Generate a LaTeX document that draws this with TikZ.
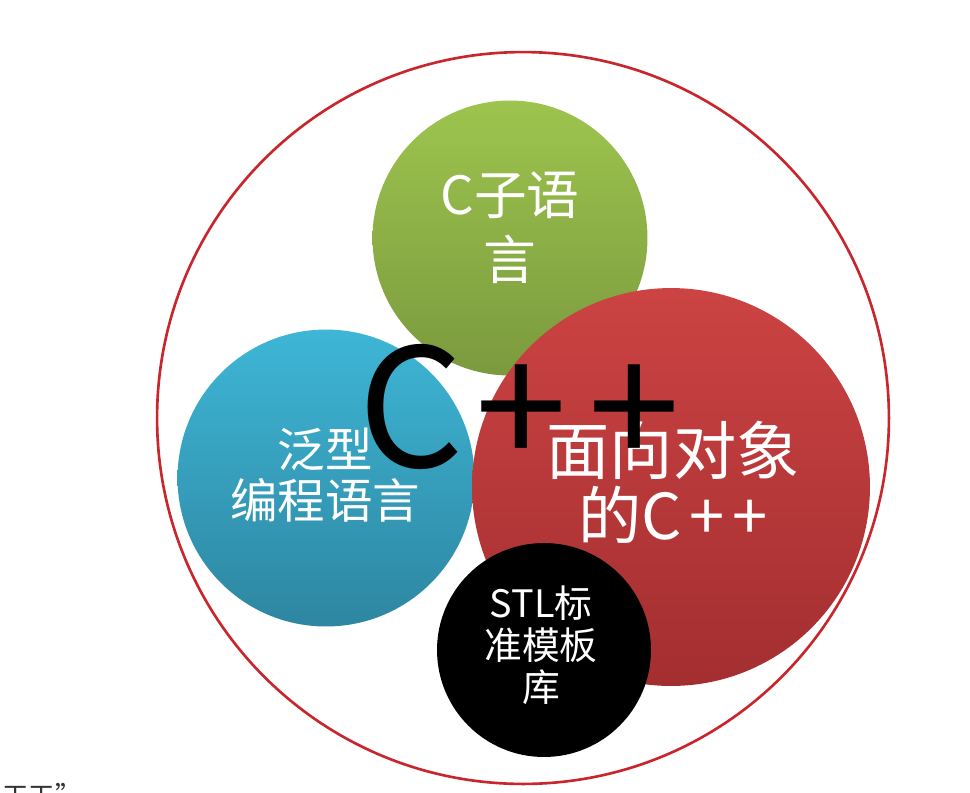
\documentclass[tikz,border=0pt]{standalone}
\usepackage{fontspec}
\setmainfont{Noto Sans CJK SC}
\usetikzlibrary{positioning}
\definecolor{ringred}{HTML}{C8262C}
\definecolor{greenA}{HTML}{9DC44E}
\definecolor{greenB}{HTML}{7B9A3E}
\definecolor{blueA}{HTML}{3EB6D6}
\definecolor{blueB}{HTML}{2E86A1}
\definecolor{redA}{HTML}{CC4343}
\definecolor{redB}{HTML}{A32E30}
\tikzset{bubble/.style={circle,inner sep=0pt,text=white,align=center}}

\begin{document}
\begin{tikzpicture}[x=0.02cm,y=-0.02cm]
\useasboundingbox (0,0) rectangle (970,792);
% outer ring
\node[circle,draw=ringred,line width=1.5pt,minimum size=14.64cm] (ring) at (523,418) {};
% the four parts
\node[bubble,top color=greenA,bottom color=greenB,minimum size=5.5cm] (csub) at (510,238) {};
\node[font=\fontsize{30}{37}\selectfont,text=white,align=center] (csubtxt) at (510,228) {C子语\\言};
\node[bubble,top color=blueA,bottom color=blueB,minimum size=5.94cm] (generic) at (326,478) {};
\node[font=\fontsize{27}{29}\selectfont,text=white,align=center] (generictxt) at (325,475) {泛型\\编程语言};
\node[bubble,top color=redA,bottom color=redB,minimum size=7.96cm] (oop) at (671,487) {};
\node[font=\fontsize{36}{37}\selectfont,text=white,align=center] (ooptxt) at (673,482) {面向对象\\的C\hspace{0.12em}+\hspace{0.12em}+};
\node[bubble,fill=black,minimum size=4.28cm] (stl) at (544,650) {};
\node[font=\fontsize{21.5}{24}\selectfont,text=white,align=center] (stltxt) at (541,645) {STL标\\准模板\\库};
% big title
\node[font=\fontsize{94}{94}\selectfont,anchor=base west,inner sep=0pt] (title) at (358,467) {C\hspace{0.07em}+\hspace{0.13em}+};
% cut-off line at the bottom
\begin{scope}
\clip (0,0) rectangle (970,792);
\node[font=\fontsize{15}{15}\selectfont,text=black!80,anchor=base west,inner sep=0pt] (cut) at (2,805) {工工”};
\end{scope}
\end{tikzpicture}
\end{document}
